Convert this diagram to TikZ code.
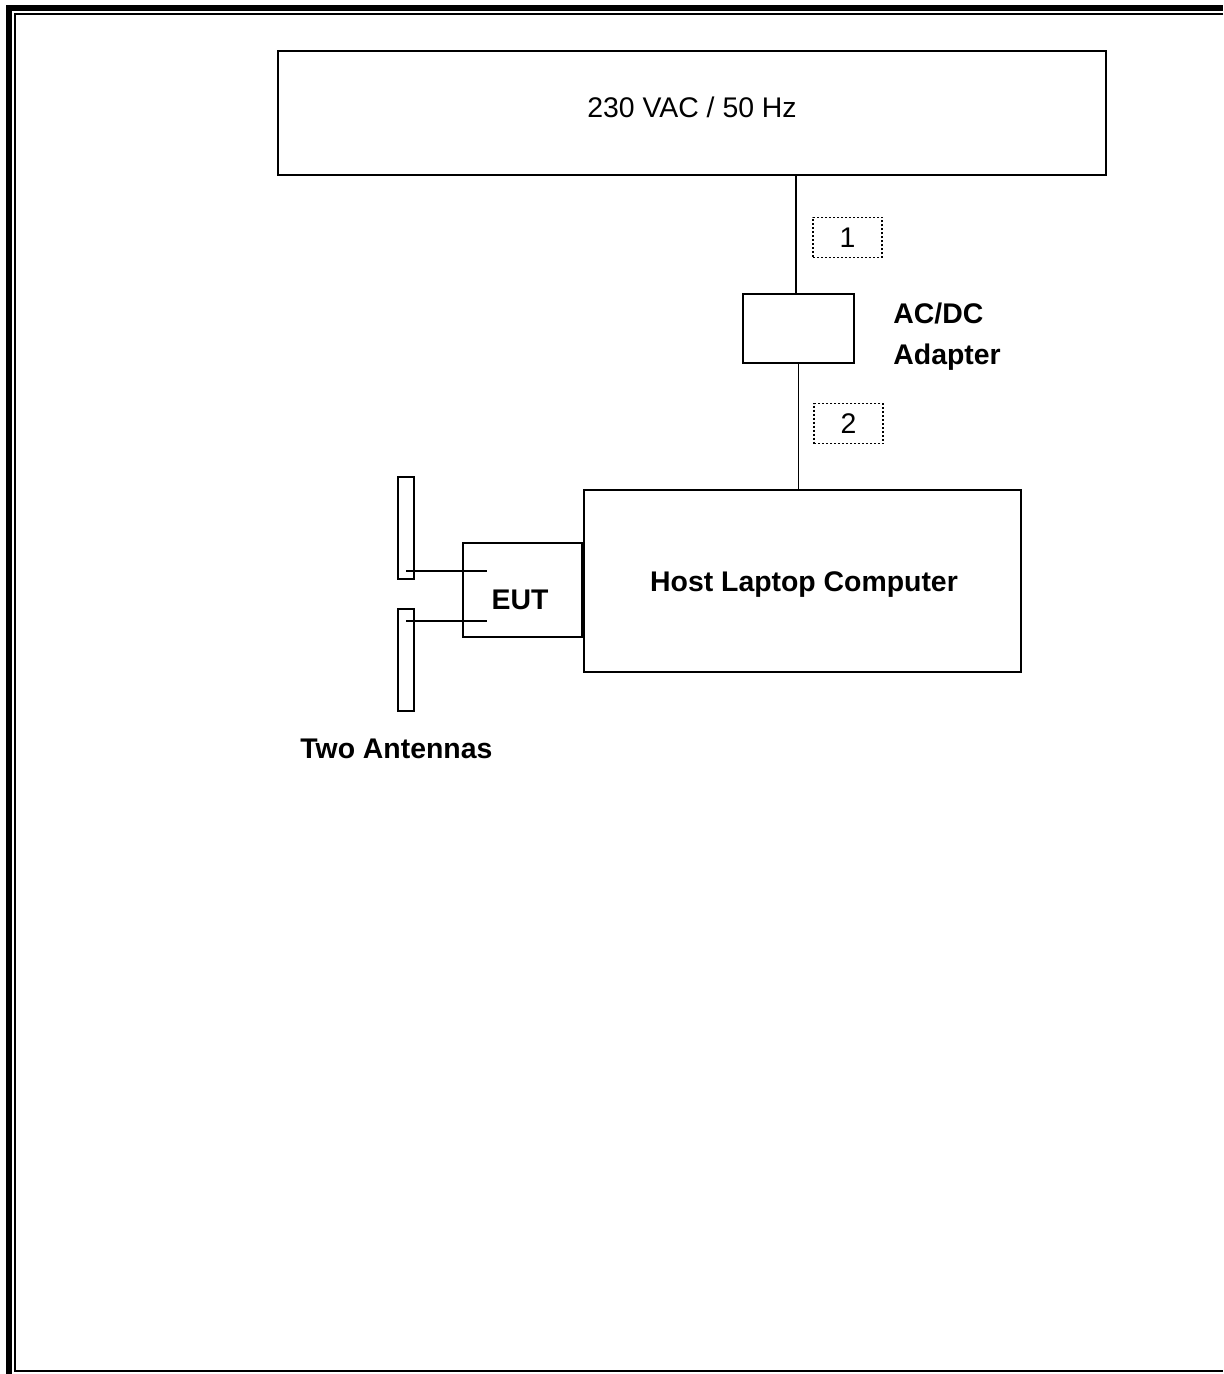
\documentclass[tikz,border=0pt]{standalone}
\usepackage{fontspec}
\setmainfont{Liberation Sans}
\begin{document}
\begin{tikzpicture}[x=0.5pt,y=-0.5pt,
  box/.style={draw,line width=0.75pt,rectangle,inner sep=0pt},
  lbl/.style={draw,dash pattern=on 1pt off 1pt,line width=0.8pt,rectangle,inner sep=0pt,minimum width=34.5pt,minimum height=20pt,font=\fontsize{14.2}{17}\selectfont},
  txt/.style={inner sep=0pt,font=\fontsize{14.2}{17}\selectfont},
  btxt/.style={inner sep=0pt,font=\fontsize{14.2}{20.5}\selectfont\bfseries},
  wire/.style={line width=0.75pt}]
\useasboundingbox (0,0) rectangle (1223,1374);
% frame
\draw[line width=3pt] (9,1374) -- (9,8) -- (1223,8);
\draw[line width=1pt] (1223,14) -- (15,14) -- (15,1371) -- (1223,1371);
% boxes
\node[box,minimum width=414pt,minimum height=62pt] (mains) at (692,113) {};
\node[txt] (mainstxt) at (692,107) {230 VAC / 50 Hz};
\node[box,minimum width=55.5pt,minimum height=34.5pt] (adapter) at (798.5,328.5) {};
\node[btxt,anchor=west,align=left] (adaptertxt) at (893,337) {AC/DC\\Adapter};
\node[box,minimum width=218.5pt,minimum height=91pt] (host) at (802.5,581) {};
\node[btxt] (hosttxt) at (804,585) {Host Laptop Computer};
\node[box,minimum width=59.5pt,minimum height=47pt] (eut) at (522.5,590) {};
\node[btxt] (euttxt) at (520,600) {EUT};
\node[box,minimum width=8pt,minimum height=51pt] (ant1) at (406,528) {};
\node[box,minimum width=8pt,minimum height=51pt] (ant2) at (406,660) {};
\node[btxt,anchor=west] (anttxt) at (300,749) {Two Antennas};
\node[lbl] (l1) at (847.5,237.5) {1};
\node[lbl] (l2) at (848.5,423.5) {2};
% connectors
\draw[wire] (mains.south -| 796,0) -- (adapter.north -| 796,0);
\draw[wire] (adapter.south) -- (adapter.south |- host.north);
\coordinate (e1) at (487,571);
\coordinate (e2) at (487,621);
\draw[wire] (ant1.center |- e1) -- (e1);
\draw[wire] (ant2.center |- e2) -- (e2);
\end{tikzpicture}
\end{document}
